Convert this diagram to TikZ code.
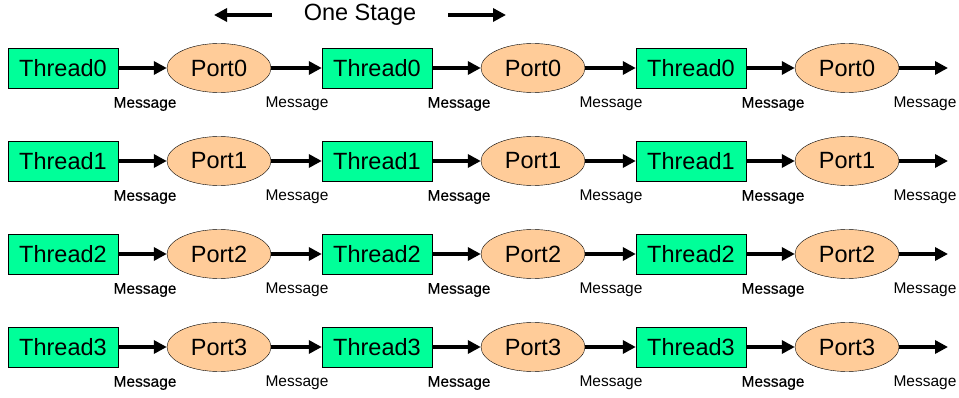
\documentclass[tikz,border=0pt]{standalone}
\usepackage{fontspec}
\setmainfont{Liberation Sans}
\newfontfamily\msgbold[FakeBold=0.4]{Liberation Sans}
\usetikzlibrary{shapes.geometric,arrows.meta}
\definecolor{thrgreen}{RGB}{0,255,153}
\definecolor{prtorange}{RGB}{255,204,153}
\tikzset{
  thr/.style={draw=black, fill=thrgreen, minimum width=110pt, minimum height=40pt, inner sep=0pt, font=\fontsize{23.5}{26}\selectfont},
  prt/.style={ellipse, draw=black, fill=prtorange, minimum width=104pt, minimum height=49pt, inner sep=0pt, font=\fontsize{23.5}{26}\selectfont},
  arr/.style={line width=4pt, -{Triangle[length=13pt,width=13pt]}},
  msg/.style={inner sep=0pt, font=\fontsize{15.5}{18}\selectfont},
  msgb/.style={inner sep=0pt, font=\fontsize{15.5}{18}\selectfont\msgbold},
  stage/.style={inner sep=0pt, font=\fontsize{23.5}{26}\selectfont}
}
\begin{document}
\begin{tikzpicture}[x=1pt,y=-1pt]
\useasboundingbox (0,0) rectangle (959,398);
\node[stage] (st) at (360,15) {One Stage};
\coordinate (la) at (272,15);
\coordinate (lb) at (214,15);
\coordinate (ra) at (448,15);
\coordinate (rb) at (506,15);
\draw[arr] (la) -- (lb);
\draw[arr] (ra) -- (rb);
\foreach \r in {0,1,2,3} {
  \pgfmathsetmacro\yy{68+93*\r}
  \foreach \s in {0,1,2} {
    \pgfmathsetmacro\xx{63+314*\s}
    \node[thr] (t\r\s) at (\xx,\yy) {Thread\r};
    \node[prt] (p\r\s) at (\xx+156,\yy) {Port\r};
    \draw[arr] (t\r\s) -- (p\r\s);
    \node[msgb] (ma\r\s) at (\xx+82,\yy+36) {Message};
    \node[msg] (mb\r\s) at (\xx+234,\yy+36) {Message};
  }
  \coordinate (e\r) at (948,\yy);
  \draw[arr] (p\r0) -- (t\r1);
  \draw[arr] (p\r1) -- (t\r2);
  \draw[arr] (p\r2) -- (e\r);
}
\end{tikzpicture}
\end{document}
